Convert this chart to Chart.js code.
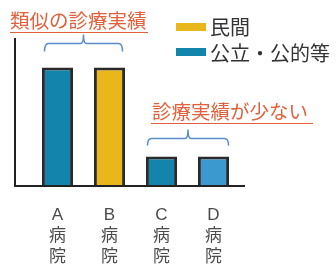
<!DOCTYPE html>
<html>
<head>
<meta charset="utf-8">
<script src="https://cdn.jsdelivr.net/npm/chart.js@4"></script>
<style>
  html, body { margin: 0; padding: 0; background: #fff; }
  #wrap { width: 336px; height: 271px; }
</style>
</head>
<body>
<div id="wrap"><canvas id="chart"></canvas></div>
<script>
// hospitals and their volume of similar treatments
let hospitals = [['A', '病', '院'], ['B', '病', '院'], ['C', '病', '院'], ['D', '病', '院']];
let publicValues = [80, null, 20, 20];
let privateValues = [null, 80, null, null];
let seriesNames = ['民間', '公立・公的等'];

let publicColors = ['#1385ad', '#1385ad', '#1385ad', '#3b99cf'];
let privateColor = '#e9b71c';
let noteColor = '#e2603b';
let bracketColor = '#5a8ccc';
let jp = "'Noto Sans CJK JP', 'Noto Sans', sans-serif";

// axes, brackets, notes and legend are drawn straight on the canvas
const annotations = {
    id: 'annotations',
    afterDraw(chart) {
        const ctx = chart.ctx;
        const area = chart.chartArea;
        const x = chart.scales.x;
        ctx.save();

        // axis lines
        ctx.strokeStyle = '#222';
        ctx.lineWidth = 2;
        ctx.beginPath();
        ctx.moveTo(15, area.top);
        ctx.lineTo(15, area.bottom);
        ctx.lineTo(245, area.bottom);
        ctx.stroke();

        // note texts with underline
        ctx.fillStyle = noteColor;
        ctx.font = '400 19.5px ' + jp;
        ctx.textBaseline = 'alphabetic';
        ctx.fillText('類似の診療実績', 10, 28);
        ctx.fillText('診療実績が少ない', 152, 119);
        ctx.strokeStyle = noteColor;
        ctx.lineWidth = 1.2;
        ctx.beginPath();
        ctx.moveTo(10, 32.5); ctx.lineTo(148, 32.5);
        ctx.moveTo(151, 123.5); ctx.lineTo(313, 123.5);
        ctx.stroke();

        // brackets
        const bracket = (x0, x1, y, drop, rise) => {
            const mid = (x0 + x1) / 2;
            ctx.beginPath();
            ctx.moveTo(x0, y + drop);
            ctx.quadraticCurveTo(x0, y, x0 + 4, y);
            ctx.lineTo(mid - 3, y);
            ctx.quadraticCurveTo(mid, y, mid, y - rise);
            ctx.quadraticCurveTo(mid, y, mid + 3, y);
            ctx.lineTo(x1 - 4, y);
            ctx.quadraticCurveTo(x1, y, x1, y + drop);
            ctx.stroke();
        };
        ctx.strokeStyle = bracketColor;
        ctx.lineWidth = 1.5;
        bracket(x.getPixelForValue(0) - 13, x.getPixelForValue(1) + 13, 43.5, 8, 9);
        bracket(x.getPixelForValue(2) - 14, x.getPixelForValue(3) + 15, 138.5, 7, 9);

        // legend
        ctx.font = '400 20px ' + jp;
        ctx.textBaseline = 'middle';
        ctx.fillStyle = privateColor;
        ctx.fillRect(176, 23, 30, 8);
        ctx.fillStyle = publicColors[0];
        ctx.fillRect(176, 48, 30, 8);
        ctx.fillStyle = '#333';
        ctx.fillText(seriesNames[0], 210, 27);
        ctx.fillText(seriesNames[1], 210, 53);

        ctx.restore();
    }
};

new Chart(document.getElementById('chart'), {
    type: 'bar',
    data: {
        labels: hospitals,
        datasets: [{
            label: seriesNames[1],
            data: publicValues,
            backgroundColor: publicColors,
            borderColor: '#2a2a2a',
            borderWidth: 3
        }, {
            label: seriesNames[0],
            data: privateValues,
            backgroundColor: privateColor,
            borderColor: '#2a2a2a',
            borderWidth: 3
        }]
    },
    options: {
        responsive: true,
        maintainAspectRatio: false,
        animation: false,
        layout: { padding: { left: 31.5, right: 96.5, top: 38, bottom: 0 } },
        datasets: { bar: { grouped: false, categoryPercentage: 1, barPercentage: 0.6 } },
        plugins: {
            legend: { display: false },
            tooltip: { enabled: false }
        },
        scales: {
            x: {
                grid: { display: false },
                border: { display: false },
                ticks: {
                    color: '#4a4a4a',
                    padding: 11,
                    maxRotation: 0,
                    font: { family: "'Liberation Sans', 'Noto Sans CJK JP', sans-serif", size: 17, lineHeight: 1.22 }
                },
                afterFit: s => { s.height = 85; }
            },
            y: {
                display: false,
                min: 0,
                max: 100
            }
        }
    },
    plugins: [annotations]
});
</script>
</body>
</html>
